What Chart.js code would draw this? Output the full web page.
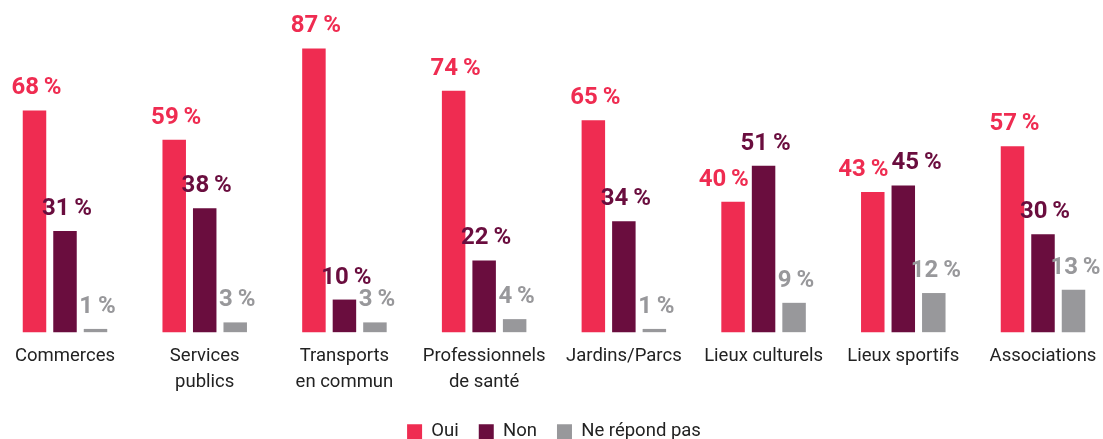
<!DOCTYPE html>
<html>
<head>
<meta charset="utf-8">
<script src="https://cdn.jsdelivr.net/npm/chart.js@4"></script>
<style>
  html, body { margin: 0; padding: 0; background: #fff; }
  #wrap { width: 1103px; height: 439px; position: relative; }
</style>
</head>
<body>
<div id="wrap"><canvas id="c"></canvas></div>
<script>
const categories = [
  ["Commerces"],
  ["Services", "publics"],
  ["Transports", "en commun"],
  ["Professionnels", "de santé"],
  ["Jardins/Parcs"],
  ["Lieux culturels"],
  ["Lieux sportifs"],
  ["Associations"]
];
const seriesNames = ["Oui", "Non", "Ne répond pas"];
const oui = [68, 59, 87, 74, 65, 40, 43, 57];
const non = [31, 38, 10, 22, 34, 51, 45, 30];
const nrp = [1, 3, 3, 4, 1, 9, 12, 13];
const colors = ["#EF2C51", "#6A0D3E", "#98989B"];

const valueLabels = {
  id: "valueLabels",
  afterDatasetsDraw(chart) {
    const ctx = chart.ctx;
    ctx.save();
    ctx.font = "bold 24px Roboto, 'DejaVu Sans', sans-serif";
    ctx.textAlign = "center";
    ctx.textBaseline = "alphabetic";
    const textH = 18, gap = 3;
    const n = chart.data.labels.length;
    for (let j = 0; j < n; j++) {
      const items = [];
      chart.data.datasets.forEach((ds, i) => {
        const meta = chart.getDatasetMeta(i);
        if (meta.hidden) return;
        const el = meta.data[j];
        const text = ds.data[j] + "\u2009%";
        items.push({ text, color: ds.backgroundColor, el, x: el.x + 2, y: el.y - 16, w: ctx.measureText(text).width });
      });
      // keep a label clear of the taller bar to its right
      for (let k = 0; k < items.length - 1; k++) {
        const a = items[k], nb = items[k + 1].el;
        const nbLeft = nb.x - nb.width / 2;
        if (nb.y < a.y) {
          const ov = (a.x + a.w / 2 + gap) - nbLeft;
          if (ov > 0) a.x -= ov;
        }
      }
      // push apart horizontally overlapping neighbours at similar heights
      for (let k = 0; k < items.length - 1; k++) {
        const a = items[k], b = items[k + 1];
        if (Math.abs(a.y - b.y) < textH) {
          const ov = (a.x + a.w / 2 + gap) - (b.x - b.w / 2);
          if (ov > 0) { a.x -= ov / 2; b.x += ov / 2; }
        }
      }
      items.forEach(it => {
        ctx.fillStyle = it.color;
        ctx.fillText(it.text, it.x, it.y);
      });
    }
    ctx.restore();
  }
};

new Chart(document.getElementById("c"), {
  type: "bar",
  data: {
    labels: categories,
    datasets: [
      { label: seriesNames[0], data: oui, backgroundColor: colors[0] },
      { label: seriesNames[1], data: non, backgroundColor: colors[1] },
      { label: seriesNames[2], data: nrp, backgroundColor: colors[2] }
    ]
  },
  options: {
    responsive: true,
    maintainAspectRatio: false,
    animation: false,
    layout: { padding: { top: 6, left: 65, right: 60, bottom: -12 } },
    datasets: { bar: { categoryPercentage: 0.655, barPercentage: 0.77, borderWidth: 0, clip: false } },
    scales: {
      x: {
        offset: false,
        grid: { display: false, drawTicks: false },
        border: { display: false },
        afterFit(scale) {
          scale.height = scale.height - 4;
          scale.paddingLeft = 0;
          scale.paddingRight = 0;
        },
        ticks: {
          autoSkip: false,
          maxRotation: 0,
          padding: 12,
          color: "#222",
          font: { family: "Roboto", size: 18.5, lineHeight: 1.36 }
        }
      },
      y: { display: false, min: 0, max: 100 }
    },
    plugins: {
      legend: {
        position: "bottom",
        labels: {
          boxWidth: 15,
          boxHeight: 15,
          padding: 20,
          color: "#222",
          font: { family: "Roboto", size: 18.5 }
        }
      },
      tooltip: { enabled: false }
    }
  },
  plugins: [valueLabels]
});
</script>
</body>
</html>
